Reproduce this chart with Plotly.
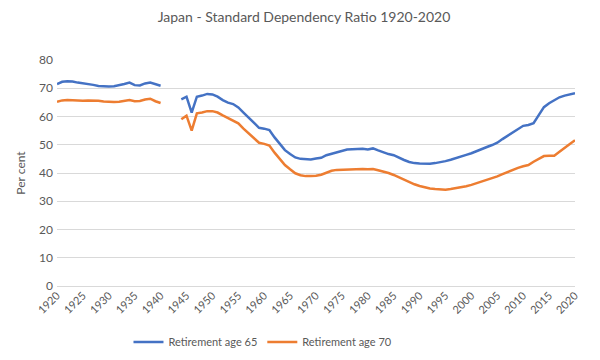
import plotly.graph_objects as go

years = list(range(1920, 2021))

age65_1920_1940 = [71.5, 72.3, 72.5, 72.4, 72.0, 71.8, 71.6, 71.2, 70.8, 70.6,
                   70.6, 70.7, 71.0, 71.5, 72.0, 71.1, 71.0, 71.7, 72.0, 71.4, 70.9]
age70_1920_1940 = [65.2, 65.7, 65.8, 65.7, 65.6, 65.6, 65.7, 65.7, 65.6, 65.3,
                   65.1, 65.1, 65.2, 65.5, 65.8, 65.4, 65.5, 66.0, 66.3, 65.4, 64.8]
gap_1941_1943 = [None, None, None]
age65_1944_2020 = [66.1, 67.0, 61.4, 67.0, 67.4, 68.0, 67.8, 67.0, 65.8, 64.9,
                   64.4, 63.2, 61.4, 59.5, 57.6, 56.0, 55.7, 55.2, 52.6, 50.3,
                   48.1, 46.7, 45.5, 45.0, 44.8, 44.8, 45.1, 45.4, 46.3, 46.8,
                   47.4, 47.7, 48.3, 48.4, 48.5, 48.6, 48.3, 48.7, 48.0, 47.3,
                   46.7, 46.3, 45.4, 44.6, 43.9, 43.5, 43.4, 43.3, 43.3, 43.5,
                   43.8, 44.2, 44.7, 45.2, 45.8, 46.4, 47.0, 47.8, 48.5, 49.2,
                   49.9, 50.7, 52.0, 53.2, 54.5, 55.6, 56.7, 57.0, 57.6, 60.5,
                   63.3, 64.7, 65.8, 66.8, 67.4, 67.8, 68.2]
age70_1944_2020 = [59.0, 60.3, 55.0, 61.1, 61.4, 61.9, 61.9, 61.4, 60.4, 59.4,
                   58.5, 57.6, 55.7, 54.0, 52.2, 50.7, 50.3, 49.7, 47.2, 44.8,
                   42.8, 41.3, 39.9, 39.2, 38.9, 38.9, 39.0, 39.4, 40.1, 40.8,
                   41.1, 41.2, 41.3, 41.2, 41.3, 41.4, 41.3, 41.4, 41.0, 40.6,
                   40.0, 39.3, 38.5, 37.6, 36.7, 36.0, 35.4, 34.9, 34.5, 34.3,
                   34.1, 34.1, 34.3, 34.6, 34.9, 35.3, 35.8, 36.4, 37.0, 37.6,
                   38.1, 38.8, 39.6, 40.4, 41.2, 41.8, 42.4, 42.8, 44.0, 45.0,
                   46.0, 46.1, 46.1, 47.5, 49.0, 50.3, 51.6]

age65 = age65_1920_1940 + gap_1941_1943 + age65_1944_2020
age70 = age70_1920_1940 + gap_1941_1943 + age70_1944_2020

tick_years = list(range(1920, 2021, 5))
tick_labels = [str(y) for y in tick_years]

FONT = "Lato"
GREY = "#595959"
W, H = 592, 352  # page body has an 8px margin

fig = go.Figure()
fig.add_trace(go.Scatter(x=years, y=age65, mode="lines", name="Retirement age 65",
                         line=dict(color="#4472C4", width=2.5)))
fig.add_trace(go.Scatter(x=years, y=age70, mode="lines", name="Retirement age 70",
                         line=dict(color="#ED7D31", width=2.5)))

fig.update_layout(
    width=W, height=H,
    paper_bgcolor="white", plot_bgcolor="white",
    margin=dict(l=49, r=25, t=52, b=74, autoexpand=False),
    font=dict(family=FONT, color=GREY, size=12),
    title=dict(text="Japan - Standard Dependency Ratio 1920-2020",
               x=0.5, xanchor="center", y=1 - 9 / H, yanchor="middle",
               font=dict(size=14, color=GREY, family=FONT)),
    showlegend=True,
    legend=dict(orientation="h", x=0.138, xanchor="left",
                yref="container", y=(H - 334) / H, yanchor="middle",
                font=dict(size=11, color=GREY), itemwidth=30,
                bgcolor="rgba(0,0,0,0)"),
)
fig.update_xaxes(range=[1920, 2020], tickvals=tick_years, ticktext=tick_labels,
                 tickangle=-45, showgrid=False, zeroline=False, automargin=False,
                 showline=False, ticks="", tickfont=dict(size=11, color=GREY))
fig.update_yaxes(range=[0, 80], dtick=10, showgrid=True, gridcolor="#D9D9D9",
                 gridwidth=1, zeroline=True, zerolinecolor="#D9D9D9", zerolinewidth=1,
                 showline=False, ticks="", tickfont=dict(size=12, color=GREY),
                 ticklabelstandoff=3, automargin=False,
                 title=dict(text="Per cent", font=dict(size=12, color=GREY), standoff=10))

fig.write_html("out.html")
